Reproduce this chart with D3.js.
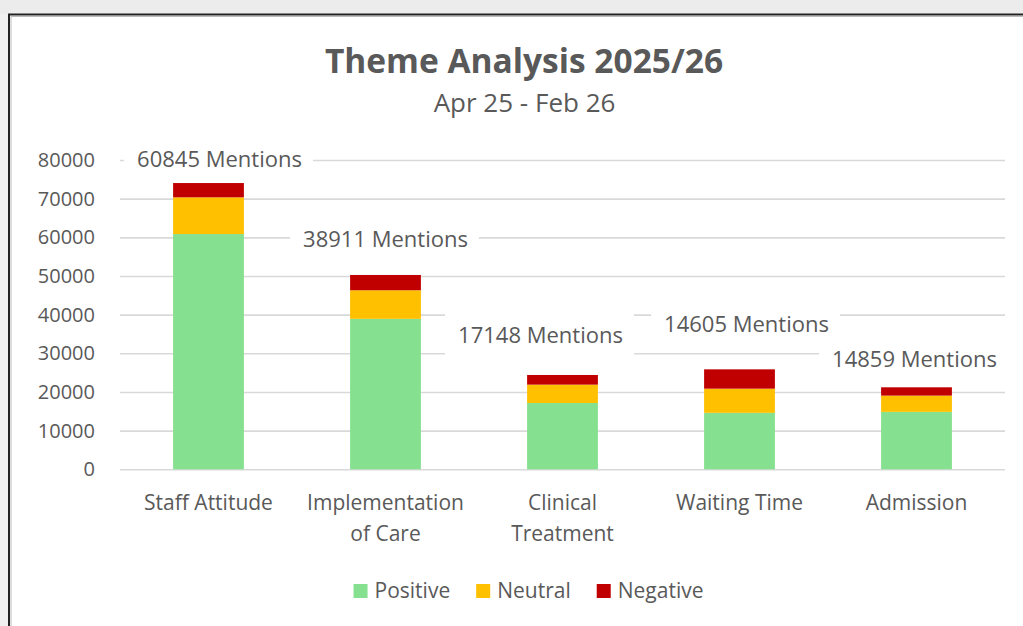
<!DOCTYPE html>
<html>
<head>
<meta charset="utf-8">
<title>Theme Analysis 2025/26</title>
<script src="https://cdn.jsdelivr.net/npm/d3@7/dist/d3.min.js"></script>
<style>
  body{margin:0;padding:0;background:#f0f0f0;overflow:hidden}
  text{font-family:"Open Sans","Noto Sans",Arial,sans-serif;fill:#595959}
</style>
</head>
<body>
<svg id="mySVG" width="1023" height="626"></svg>
<script>
//---chart data---
var categories=["Staff Attitude","Implementation of Care","Clinical Treatment","Waiting Time","Admission"]
var positive=[60845,38911,17148,14605,14859]
var neutral=[9500,7400,4750,6250,4200]
var negative=[3900,3950,2500,5000,2150]
var seriesNames=["Positive","Neutral","Negative"]
var seriesColors=["#85e08f","#ffc000","#c00000"]
var yTicks=[0,10000,20000,30000,40000,50000,60000,70000,80000]

//---where the "Mentions" labels were dragged to (value units / px shift from bar centre)---
var labelLevel=[80250,59550,34750,37600,28550]
var labelShift=[11,0,-22,7,-2]

var svg=d3.select("#mySVG")

//---frame: grey surround, white chart area, dark edge---
svg.append("rect").attr("width",1023).attr("height",14).attr("fill","#ececec")
svg.append("rect").attr("x",9).attr("y",15).attr("width",1014).attr("height",611).attr("fill","white")
svg.append("path").attr("d","M9,626V14.5H1023").attr("fill","none").attr("stroke","#222").attr("stroke-width",2)
svg.append("path").attr("d","M11,626V16.5H1023").attr("fill","none").attr("stroke","#bbb").attr("stroke-width",1)

//---titles---
svg.append("text").text("Theme Analysis 2025/26")
  .attr("x",524).attr("y",73)
  .attr("text-anchor","middle")
  .attr("font-size",33.5).attr("font-weight","bold")
svg.append("text").text("Apr 25 - Feb 26")
  .attr("x",524.5).attr("y",112)
  .attr("text-anchor","middle")
  .attr("font-size",26)

//---scales---
var x=d3.scaleBand().domain(categories).range([120,1005]).paddingInner(0.6).paddingOuter(0.3)
var y=d3.scaleLinear().domain([0,80000]).range([469.3,160])

//---gridlines + y labels---
var yAxis=svg.append("g").attr("transform","translate(120,0)")
  .call(d3.axisLeft(y).tickValues(yTicks).tickSize(-885).tickPadding(25).tickFormat(d3.format("d")))
yAxis.select(".domain").remove()
yAxis.selectAll(".tick line").attr("stroke","#d9d9d9").attr("stroke-width",1.6)
yAxis.selectAll(".tick text").attr("font-size",20).attr("fill","#595959")
  .style("font-family","'Open Sans','Noto Sans',Arial,sans-serif")

//---stacked bars---
var rows=categories.map(function(c,i){
  return {cat:c,Positive:positive[i],Neutral:neutral[i],Negative:negative[i]}
})
var stack=d3.stack().keys(seriesNames)(rows)
svg.append("g").selectAll("g").data(stack).join("g")
  .attr("fill",function(d,i){return seriesColors[i]})
  .selectAll("rect").data(function(d){return d}).join("rect")
  .attr("x",function(d){return x(d.data.cat)})
  .attr("width",x.bandwidth())
  .attr("y",function(d){return y(d[1])})
  .attr("height",function(d){return y(d[0])-y(d[1])})

//---"Mentions" labels with white box over the gridlines---
var labels=svg.append("g")
categories.forEach(function(c,i){
  var cx=x(c)+x.bandwidth()/2+labelShift[i]
  var cy=y(labelLevel[i])
  var g=labels.append("g")
  var box=g.append("rect").attr("fill","white")
  var t=g.append("text").text(positive[i]+" Mentions")
    .attr("x",cx).attr("y",cy).attr("dy","0.35em")
    .attr("text-anchor","middle").attr("font-size",22)
  var w=t.node().getComputedTextLength()
  box.attr("x",cx-w/2-13).attr("y",cy-24).attr("width",w+24).attr("height",48)
})

//---category labels (wrapped like excel)---
var wrapped=[["Staff Attitude"],["Implementation","of Care"],["Clinical","Treatment"],["Waiting Time"],["Admission"]]
categories.forEach(function(c,i){
  var t=svg.append("text")
    .attr("x",x(c)+x.bandwidth()/2).attr("y",510)
    .attr("text-anchor","middle").attr("font-size",21)
  wrapped[i].forEach(function(line,k){
    t.append("tspan").attr("x",x(c)+x.bandwidth()/2).attr("dy",k==0?0:31).text(line)
  })
})

//---legend, centred under the chart---
var legend=svg.append("g")
var lx=0
seriesNames.forEach(function(name,i){
  var item=legend.append("g").attr("transform","translate("+lx+",0)")
  item.append("rect").attr("y",-7).attr("width",14).attr("height",14).attr("fill",seriesColors[i])
  var t=item.append("text").text(name).attr("x",21).attr("dy","0.35em").attr("font-size",21)
  lx+=21+t.node().getComputedTextLength()+(i<seriesNames.length-1?26:0)
})
legend.attr("transform","translate("+(528.5-lx/2)+",591)")
</script>
</body>
</html>
